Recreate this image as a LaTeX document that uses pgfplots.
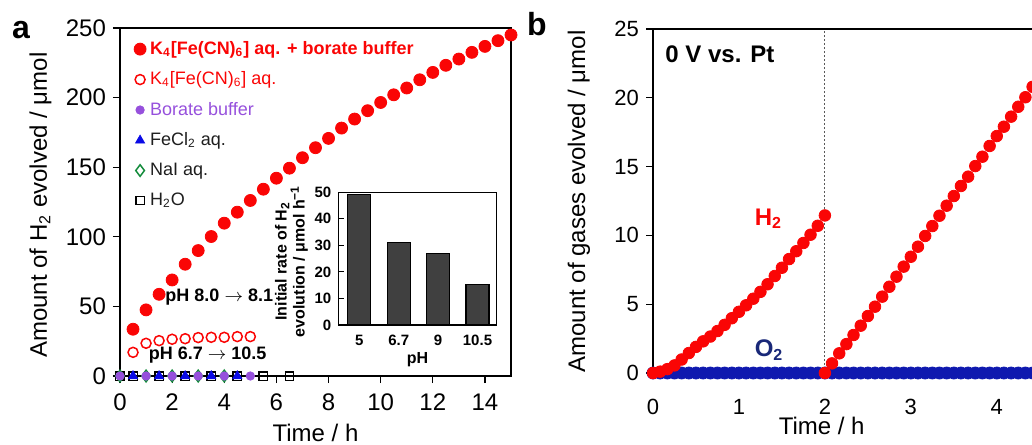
\documentclass[border=0pt]{standalone}
\usepackage{fontspec}
\setmainfont{Liberation Sans}
\usepackage{pgfplots}
\pgfplotsset{compat=1.18}
\usepackage{pgfplotstable}

\definecolor{kred}{RGB}{250,5,5}
\definecolor{bpurple}{RGB}{150,80,220}
\definecolor{fblue}{RGB}{10,10,230}
\definecolor{ngreen}{RGB}{20,140,60}
\definecolor{oblue}{RGB}{15,25,175}
\definecolor{onavy}{RGB}{25,40,120}
\definecolor{legdark}{RGB}{30,30,30}
\definecolor{bargray}{RGB}{64,64,64}

% panel b, H2 before the break (every 5 min)
\pgfplotstableread{
t y
0     0
0.083 0.1
0.167 0.28
0.25  0.55
0.333 0.98
0.417 1.45
0.5   1.9
0.583 2.3
0.667 2.65
0.75  3.05
0.833 3.5
0.917 3.98
1     4.45
1.083 4.92
1.167 5.4
1.25  5.9
1.333 6.45
1.417 7.05
1.5   7.65
1.583 8.28
1.667 8.85
1.75  9.45
1.833 10.05
1.917 10.7
2     11.45
}\Hfirst

% panel b, H2 after the break
\pgfplotstableread{
t y
2     0
2.083 0.7
2.167 1.43
2.25  2.1
2.333 2.76
2.417 3.44
2.5   4.14
2.583 4.82
2.667 5.55
2.75  6.27
2.833 7.0
2.917 7.73
3     8.45
3.083 9.18
3.167 9.96
3.25  10.68
3.333 11.43
3.417 12.16
3.5   12.86
3.583 13.59
3.667 14.27
3.75  15.04
3.833 15.72
3.917 16.5
4     17.22
4.083 17.9
4.167 18.63
4.25  19.35
4.333 20.04
4.417 20.8
}\Hsecond

% panel b, O2
\pgfplotstableread{
t y
0 0
0.083 0
0.167 0
0.25 0
0.333 0
0.417 0
0.5 0
0.583 0
0.667 0
0.75 0
0.833 0
0.917 0
1 0
1.083 0
1.167 0
1.25 0
1.333 0
1.417 0
1.5 0
1.583 0
1.667 0
1.75 0
1.833 0
1.917 0
2 0
2.083 0
2.167 0
2.25 0
2.333 0
2.417 0
2.5 0
2.583 0
2.667 0
2.75 0
2.833 0
2.917 0
3 0
3.083 0
3.167 0
3.25 0
3.333 0
3.417 0
3.5 0
3.583 0
3.667 0
3.75 0
3.833 0
3.917 0
4 0
4.083 0
4.167 0
4.25 0
4.333 0
4.417 0
}\Otwo

\begin{document}
\begin{tikzpicture}
\path[use as bounding box] (0,0) rectangle (516pt,-222pt);

% ---------- panel a ----------
\begin{axis}[
  at={(60pt,-188pt)}, anchor=south west,
  scale only axis, width=195.5pt, height=174pt,
  xmin=0, xmax=15, ymin=0, ymax=250,
  xtick={0,2,...,14}, ytick={0,50,...,250},
  tick align=outside, xtick pos=bottom, ytick pos=left,
  major tick length=3.5pt,
  tick style={black, line width=0.6pt},
  axis line style={line width=0.6pt},
  /pgf/number format/assume math mode=true,
  ticklabel style={font=\fontsize{12}{14}\selectfont},
  xticklabel style={yshift=-2pt},
  xlabel={Time / h},
  ylabel={Amount of H\textsubscript{2} evolved / μmol},
  label style={font=\fontsize{12}{14}\selectfont},
  xlabel style={at={(axis description cs:0.5,-0.189)}, anchor=base},
  ylabel style={at={(axis description cs:-0.187,0.491)}, anchor=base},
  clip=false,
  reverse legend,
  legend style={at={(axis description cs:0.035,0.975)}, anchor=north west,
    draw=none, fill=none, font=\fontsize{9}{10}\selectfont,
    row sep=3.2pt, inner sep=0pt, cells={anchor=west}},
]
\addplot[only marks, mark=square, mark size=2.1pt, black, mark options={line width=0.7pt}]
  coordinates {(0,0) (0.5,0) (1.5,0) (2.5,0) (3.5,0) (4.5,0) (5.5,0) (6.5,0)};
\addlegendentry{\textcolor{legdark}{H\textsubscript{2}O}}
\addplot[only marks, mark=diamond, mark size=2.9pt, ngreen, mark options={line width=0.75pt}]
  coordinates {(0,0) (1,0) (2,0) (3,0) (4,0)};
\addlegendentry{\textcolor{legdark}{NaI aq.}}
\addplot[only marks, mark=triangle*, mark size=2.6pt, fblue]
  coordinates {(0.5,0) (1.5,0) (2.5,0) (3.5,0) (4.5,0)};
\addlegendentry{\textcolor{legdark}{FeCl\textsubscript{2} aq.}}
\addplot[only marks, mark=*, mark size=2.1pt, bpurple]
  coordinates {(0,0) (1,0) (2,0) (3,0) (4,0) (5,0)};
\addlegendentry{\textcolor{bpurple}{Borate buffer}}
\addplot[only marks, mark=o, mark size=2.5pt, kred, mark options={line width=0.75pt}]
  coordinates {(0.5,17) (1,23.5) (1.5,25.4) (2,26.4) (2.5,26.8) (3,27.6)
               (3.5,27.8) (4,27.8) (4.5,28.3) (5,28.3)};
\addlegendentry{\textcolor{kred}{K\textsubscript{4}[Fe(CN)\textsubscript{6}] aq.}}
\addplot[only marks, mark=*, mark size=3pt, kred]
  coordinates {(0.5,33.6) (1,47.5) (1.5,58.7) (2,69) (2.5,80.3) (3,90.1)
               (3.5,100.2) (4,109.8) (4.5,117.7) (5,126.1) (5.5,134.2) (6,142.1)
               (6.5,149.3) (7,156.8) (7.5,164) (8,170.7) (8.5,178.1) (9,184.6)
               (9.5,190.6) (10,196.5) (10.5,202) (11,206.9) (11.5,212.8) (12,218.1)
               (12.5,223.2) (13,227.7) (13.5,232.5) (14,236.8) (14.5,240.9) (15,245)};
\addlegendentry{\textcolor{kred}{\bfseries K\textsubscript{4}[Fe(CN)\textsubscript{6}] aq. + borate buffer}}
\node[anchor=base west, inner sep=0pt, font=\bfseries\fontsize{9}{10}\selectfont]
  at (axis cs:1.73,53.4) {pH 8.0 $\rightarrow$ 8.1};
\node[anchor=base west, inner sep=0pt, font=\bfseries\fontsize{9}{10}\selectfont]
  at (axis cs:1.09,11.5) {pH 6.7 $\rightarrow$ 10.5};
\end{axis}

% ---------- inset ----------
\begin{axis}[
  at={(169.2pt,-162.5pt)}, anchor=south west,
  scale only axis, width=79.2pt, height=66.4pt,
  axis background/.style={fill=white},
  ybar, bar width=0.585, bar shift=0pt,
  xmin=-0.53, xmax=3.49, ymin=0, ymax=50,
  xtick={0,1,2,3}, xticklabels={5,6.7,9,10.5}, xtick style={draw=none},
  ytick={0,10,...,50}, ytick pos=left, tick align=inside, major tick length=3pt,
  tick style={black, line width=0.6pt},
  axis line style={line width=0.6pt},
  /pgf/number format/assume math mode=true,
  ticklabel style={font=\bfseries\fontsize{7.5}{8}\selectfont},
  xticklabel style={yshift=-1.5pt},
  xlabel={pH},
  ylabel={Initial rate of H\textsubscript{2}\\evolution / μmol h\textsuperscript{−1}},
  label style={font=\bfseries\fontsize{8}{9}\selectfont},
  xlabel style={at={(axis description cs:0.5,-0.264)}, anchor=center},
  ylabel style={at={(axis description cs:-0.297,0.48)}, anchor=center, align=center},
]
\addplot[fill=bargray, draw=black, line width=0.6pt]
  coordinates {(0,49) (1,31) (2,27) (3,15.3)};
\end{axis}

% ---------- panel b ----------
\begin{axis}[
  at={(326.5pt,-186.5pt)}, anchor=south west,
  scale only axis, width=189.5pt, height=172pt,
  xmin=0, xmax=4.41, ymin=0, ymax=25,
  axis x line=box, axis y line=left,
  axis line style={-, line width=0.6pt},
  xtick={0,1,2,3,4}, ytick={0,5,...,25},
  xtick style={draw=none},
  tick align=outside, ytick pos=left, major tick length=3.5pt,
  tick style={black, line width=0.6pt},
  /pgf/number format/assume math mode=true,
  ticklabel style={font=\fontsize{11}{13}\selectfont},
  xticklabel style={yshift=-6pt},
  xlabel={Time / h},
  ylabel={Amount of gases evolved / μmol},
  label style={font=\fontsize{12}{14}\selectfont},
  xlabel style={at={(axis description cs:0.445,-0.180)}, anchor=base},
  ylabel style={at={(axis description cs:-0.179,0.4985)}, anchor=base},
  clip=false,
]
\addplot[gray!70!black, dash pattern=on 1.2pt off 0.8pt, line width=0.5pt]
  coordinates {(2,0) (2,25)};
\addplot[only marks, mark=*, mark size=3pt, oblue] table {\Otwo};
\addplot[only marks, mark=*, mark size=2.9pt, kred] table {\Hfirst};
\addplot[only marks, mark=*, mark size=2.9pt, kred] table {\Hsecond};
\node[anchor=base west, inner sep=0pt, font=\bfseries\fontsize{12}{14}\selectfont]
  at (axis cs:0.14,22.6) {0 V vs. Pt};
\node[anchor=base west, inner sep=0pt, text=kred, font=\bfseries\fontsize{12}{14}\selectfont]
  at (axis cs:1.18,10.75) {H\textsubscript{2}};
\node[anchor=base west, inner sep=0pt, text=onavy, font=\bfseries\fontsize{12}{14}\selectfont]
  at (axis cs:1.18,1.18) {O\textsubscript{2}};
\end{axis}

\node[anchor=base west, inner sep=0pt, font=\bfseries\fontsize{16}{18}\selectfont] at (5.8pt,-19.5pt) {a};
\node[anchor=base west, inner sep=0pt, font=\bfseries\fontsize{16}{18}\selectfont] at (263.3pt,-18pt) {b};
\end{tikzpicture}
\end{document}
